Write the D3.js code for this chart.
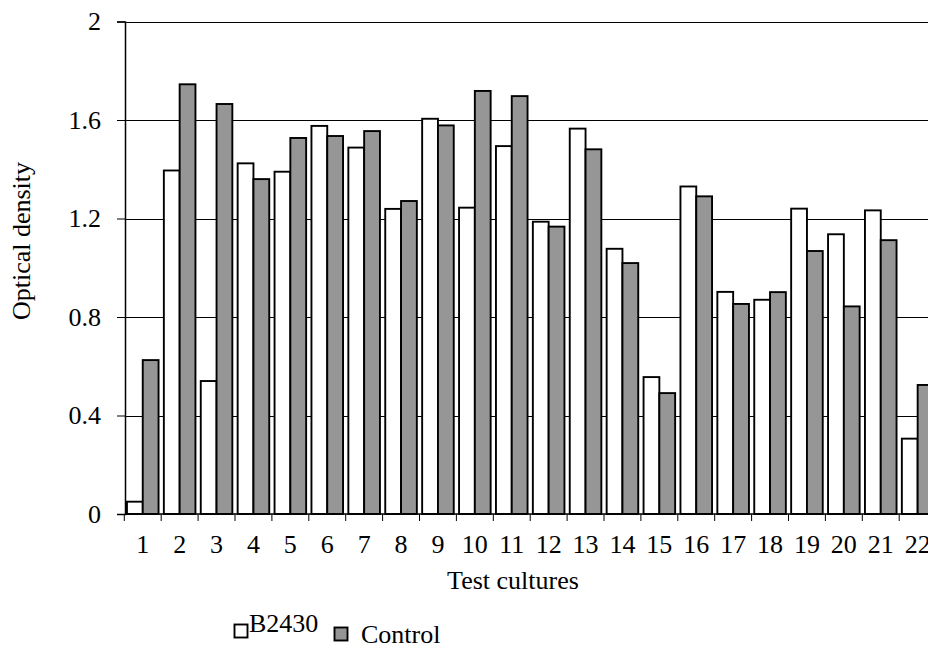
<!DOCTYPE html>
<html>
<head>
<meta charset="utf-8">
<script src="https://cdn.jsdelivr.net/npm/d3@7"></script>
<style>
  body { margin: 0; background: #fff; }
  text { font-family: "Liberation Serif", "Times New Roman", serif; fill: #000; }
</style>
</head>
<body>
<script>
// data
var cultures = ["1","2","3","4","5","6","7","8","9","10","11","12","13","14","15","16","17","18","19","20","21","22"];
var seriesNames = ["B2430", "Control"];
var b2430 = [0.05, 1.395, 0.54, 1.424, 1.39, 1.576, 1.488, 1.239, 1.605, 1.244, 1.494, 1.187, 1.565, 1.077, 0.556, 1.330, 0.902, 0.870, 1.240, 1.136, 1.233, 0.306];
var control = [0.625, 1.745, 1.665, 1.360, 1.527, 1.535, 1.555, 1.271, 1.578, 1.718, 1.697, 1.167, 1.481, 1.019, 0.491, 1.290, 0.853, 0.901, 1.068, 0.843, 1.112, 0.524];
var yTicks = [0, 0.4, 0.8, 1.2, 1.6, 2];
var fills = ["#ffffff", "#969696"];

var width = 928, height = 648;
var fontSize = 26;

var svg = d3.select("body")
            .append("svg")
            .attr("width", width)
            .attr("height", height);

var x = d3.scaleBand().domain(cultures).range([124.3, 936.1]).padding(0);
var xSub = d3.scaleBand().domain(seriesNames).range([0, x.bandwidth()]).paddingInner(0).paddingOuter(0.168);
var y = d3.scaleLinear().domain([0, 2]).range([514, 21.5]);

// gridlines
svg.append("g").selectAll("line").data(yTicks.filter(function(d) { return d > 0; }))
  .enter().append("line")
  .attr("x1", 125).attr("x2", width)
  .attr("y1", function(d) { return Math.round(y(d)) + 0.5; })
  .attr("y2", function(d) { return Math.round(y(d)) + 0.5; })
  .attr("stroke", "#000")
  .attr("stroke-width", 1);

// bars
var rows = cultures.map(function(c, i) {
  return { c: c, vals: [{ s: "B2430", v: b2430[i] }, { s: "Control", v: control[i] }] };
});

svg.append("g").selectAll("g").data(rows)
  .enter().append("g")
  .attr("transform", function(d) { return "translate(" + x(d.c) + ",0)"; })
  .selectAll("rect").data(function(d) { return d.vals; })
  .enter().append("rect")
  .attr("x", function(d) { return xSub(d.s); })
  .attr("width", xSub.bandwidth())
  .attr("y", function(d) { return y(d.v); })
  .attr("height", function(d) { return y(0) - y(d.v); })
  .attr("fill", function(d, i) { return fills[i]; })
  .attr("stroke", "#000")
  .attr("stroke-width", 1.9);

// y axis
var yAxis = svg.append("g")
  .attr("transform", "translate(125,0)")
  .call(d3.axisLeft(y).tickValues(yTicks).tickFormat(function(d) { return String(d); }).tickSize(8).tickPadding(16));
yAxis.select(".domain").attr("stroke", "#000").attr("stroke-width", 1.5);
yAxis.selectAll(".tick line").attr("stroke", "#000");
yAxis.selectAll("text").attr("font-family", "Liberation Serif").attr("font-size", fontSize).attr("fill", "#000");

// x axis: labels at band centres, ticks at band boundaries
var xAxis = svg.append("g")
  .attr("transform", "translate(0,514)")
  .call(d3.axisBottom(x).tickSize(0).tickPadding(20.5));
xAxis.select(".domain").attr("stroke", "#000").attr("stroke-width", 1.5).attr("d", "M125,0H" + width);
xAxis.selectAll("text").attr("font-family", "Liberation Serif").attr("font-size", fontSize).attr("fill", "#000");

svg.append("g").selectAll("line").data(cultures.concat(["end"]))
  .enter().append("line")
  .attr("x1", function(d) { return d === "end" ? x.range()[1] : x(d); })
  .attr("x2", function(d) { return d === "end" ? x.range()[1] : x(d); })
  .attr("y1", 514).attr("y2", 521)
  .attr("stroke", "#000");

// axis titles
svg.append("text")
  .attr("x", 513).attr("y", 589)
  .attr("text-anchor", "middle")
  .attr("font-size", fontSize)
  .text("Test cultures");

svg.append("text")
  .attr("transform", "translate(30,241) rotate(-90)")
  .attr("text-anchor", "middle")
  .attr("font-size", fontSize)
  .text("Optical density");

// legend
var legend = svg.append("g");
legend.append("rect").attr("x", 234.5).attr("y", 624.5).attr("width", 13).attr("height", 13)
  .attr("fill", fills[0]).attr("stroke", "#000").attr("stroke-width", 1.9);
legend.append("text").attr("x", 249).attr("y", 632).attr("font-size", fontSize).text(seriesNames[0]);
legend.append("rect").attr("x", 334.5).attr("y", 627.5).attr("width", 13).attr("height", 13)
  .attr("fill", fills[1]).attr("stroke", "#000").attr("stroke-width", 1.9);
legend.append("text").attr("x", 361).attr("y", 643).attr("font-size", fontSize).text(seriesNames[1]);
</script>
</body>
</html>
